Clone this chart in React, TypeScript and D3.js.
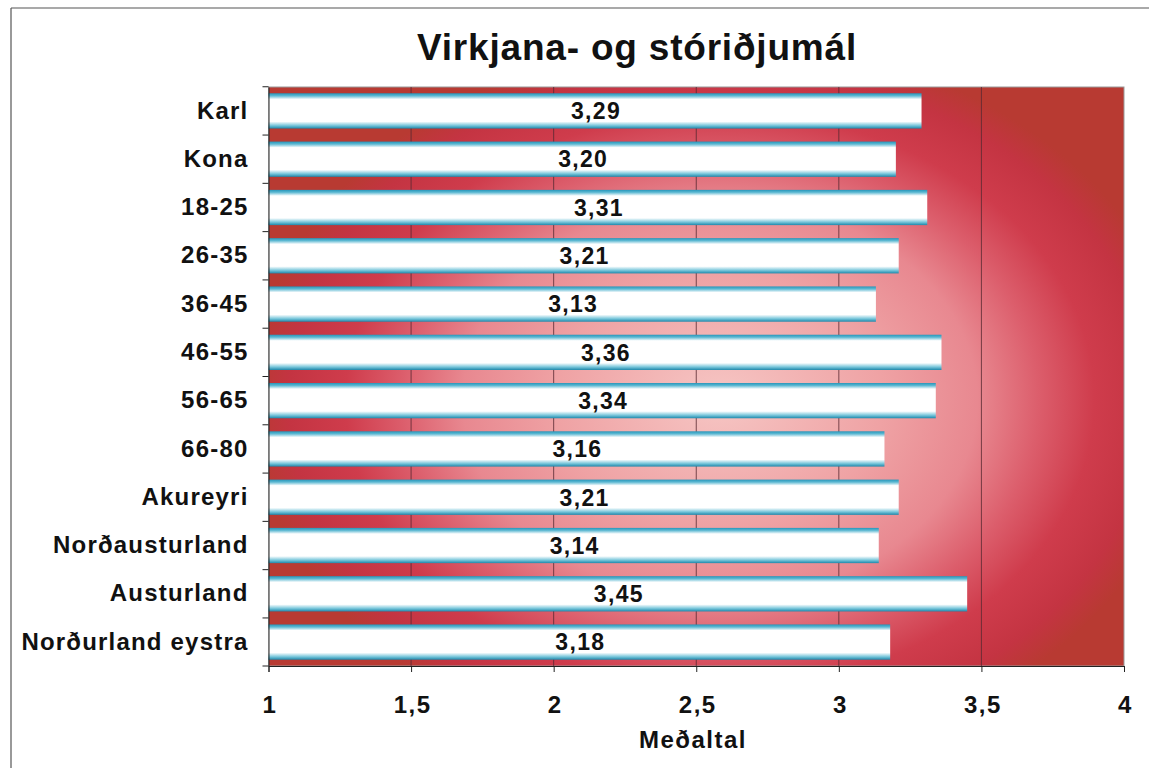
import React, { useEffect, useRef } from 'react';
import * as d3 from 'd3';

const categories = [
  'Karl', 'Kona', '18-25', '26-35', '36-45', '46-55', '56-65', '66-80',
  'Akureyri', 'Norðausturland', 'Austurland', 'Norðurland eystra',
];
const values = [3.29, 3.2, 3.31, 3.21, 3.13, 3.36, 3.34, 3.16, 3.21, 3.14, 3.45, 3.18];
const xTicks = [1, 1.5, 2, 2.5, 3, 3.5, 4];

const title = 'Virkjana- og stóriðjumál';
const xTitle = 'Meðaltal';

const fmt = (v: number) => d3.format('.2f')(v).replace('.', ',');
const fmtTick = (v: number) => String(v).replace('.', ',');

const App = () => {
  const svgRef = useRef<SVGSVGElement>(null);

  useEffect(() => {
    const svg = d3.select(svgRef.current);
    svg.selectAll('*').remove();

    const width = 1149;
    const height = 768;
    const margin = { top: 87, right: 25, bottom: 102, left: 268.5 };
    const font = '"Liberation Sans", Arial, sans-serif';

    const x = d3.scaleLinear()
      .domain([1, 4])
      .range([margin.left, width - margin.right]);

    const y = d3.scaleBand<string>()
      .domain(categories)
      .range([margin.top, height - margin.bottom])
      .paddingInner(0.27)
      .paddingOuter(0.13);

    // outer frame, only top and left edges show
    svg.append('line')
      .attr('x1', 11).attr('x2', width).attr('y1', 8).attr('y2', 8)
      .attr('stroke', '#555').attr('stroke-width', 1.2);
    svg.append('line')
      .attr('x1', 11).attr('x2', 11).attr('y1', 8).attr('y2', height)
      .attr('stroke', '#555').attr('stroke-width', 1.2);

    const defs = svg.append('defs');

    // plot background: crimson with a pale pink glow in the middle
    const cx = 720, cy = 400;
    const bg = defs.append('radialGradient')
      .attr('id', 'bg-grad')
      .attr('gradientUnits', 'userSpaceOnUse')
      .attr('cx', cx).attr('cy', cy).attr('fx', cx).attr('fy', cy)
      .attr('r', 360)
      .attr('gradientTransform', `translate(${cx},${cy}) scale(1.3,1) translate(${-cx},${-cy})`);
    bg.append('stop').attr('offset', '0%').attr('stop-color', '#f6c6c4');
    bg.append('stop').attr('offset', '35%').attr('stop-color', '#efa2a4');
    bg.append('stop').attr('offset', '55%').attr('stop-color', '#e88890');
    bg.append('stop').attr('offset', '68%').attr('stop-color', '#dc5e6c');
    bg.append('stop').attr('offset', '80%').attr('stop-color', '#cf3c4c');
    bg.append('stop').attr('offset', '92%').attr('stop-color', '#c43442');
    bg.append('stop').attr('offset', '100%').attr('stop-color', '#b83a32');

    // bar fill: white with teal top and bottom edges
    const bar = defs.append('linearGradient')
      .attr('id', 'bar-grad')
      .attr('x1', '0').attr('y1', '0').attr('x2', '0').attr('y2', '1');
    bar.append('stop').attr('offset', '0%').attr('stop-color', '#2796ba');
    bar.append('stop').attr('offset', '7%').attr('stop-color', '#5cb8d2');
    bar.append('stop').attr('offset', '17%').attr('stop-color', '#ffffff');
    bar.append('stop').attr('offset', '80%').attr('stop-color', '#ffffff');
    bar.append('stop').attr('offset', '91%').attr('stop-color', '#7cc8dc');
    bar.append('stop').attr('offset', '100%').attr('stop-color', '#1d88ab');

    svg.append('rect')
      .attr('x', margin.left)
      .attr('y', margin.top)
      .attr('width', width - margin.right - margin.left)
      .attr('height', height - margin.bottom - margin.top)
      .attr('fill', 'url(#bg-grad)')
      .attr('stroke', '#9a9a9a')
      .attr('stroke-width', 1);

    // gridlines
    svg.append('g')
      .selectAll('line')
      .data(xTicks.slice(1, -1))
      .join('line')
      .attr('x1', d => x(d)).attr('x2', d => x(d))
      .attr('y1', margin.top).attr('y2', height - margin.bottom)
      .attr('stroke', '#5a2a32')
      .attr('stroke-width', 1)
      .attr('opacity', 0.8);

    // bars
    svg.append('g')
      .selectAll('rect')
      .data(categories)
      .join('rect')
      .attr('x', x(1))
      .attr('y', d => y(d)!)
      .attr('width', (d, i) => x(values[i]) - x(1))
      .attr('height', y.bandwidth())
      .attr('fill', 'url(#bar-grad)');

    // value labels
    svg.append('g')
      .selectAll('text')
      .data(categories)
      .join('text')
      .attr('x', (d, i) => (x(1) + x(values[i])) / 2 + 1)
      .attr('y', d => y(d)! + y.bandwidth() / 2)
      .attr('dy', '0.36em')
      .attr('text-anchor', 'middle')
      .attr('font-family', font)
      .attr('font-weight', 'bold')
      .attr('font-size', 23)
      .attr('letter-spacing', 1.3)
      .attr('fill', '#111')
      .text((d, i) => fmt(values[i]));

    // y axis
    const yAxis = svg.append('g')
      .attr('transform', `translate(${margin.left},0)`)
      .call(d3.axisLeft(y).tickSize(0).tickPadding(20));
    yAxis.select('.domain').attr('stroke', '#222');
    yAxis.selectAll('.tick text')
      .attr('fill', '#111')
      .attr('font-family', font)
      .attr('font-weight', 'bold')
      .attr('font-size', 24)
      .attr('letter-spacing', 1.2);

    // y tick marks sit on the band boundaries
    const step = y.step();
    const bounds = categories.map(c => y(c)! - (step - y.bandwidth()) / 2);
    bounds.push(height - margin.bottom);
    svg.append('g')
      .selectAll('line')
      .data(bounds)
      .join('line')
      .attr('x1', margin.left - 6).attr('x2', margin.left)
      .attr('y1', d => d).attr('y2', d => d)
      .attr('stroke', '#222');

    // x axis
    const xAxis = svg.append('g')
      .attr('transform', `translate(0,${height - margin.bottom})`)
      .call(d3.axisBottom(x).tickValues(xTicks).tickSize(6).tickPadding(24).tickFormat(d => fmtTick(+d)));
    xAxis.select('.domain').attr('stroke', '#222');
    xAxis.selectAll('.tick line').attr('stroke', '#222');
    xAxis.selectAll('.tick text')
      .attr('fill', '#111')
      .attr('font-family', font)
      .attr('font-weight', 'bold')
      .attr('font-size', 24)
      .attr('letter-spacing', 1.5)
      .attr('dx', 1);

    svg.append('text')
      .attr('x', 693)
      .attr('y', 748)
      .attr('text-anchor', 'middle')
      .attr('font-family', font)
      .attr('font-weight', 'bold')
      .attr('font-size', 24)
      .attr('letter-spacing', 1.5)
      .attr('fill', '#111')
      .text(xTitle);

    svg.append('text')
      .attr('x', 637)
      .attr('y', 60)
      .attr('text-anchor', 'middle')
      .attr('font-family', font)
      .attr('font-weight', 'bold')
      .attr('font-size', 37)
      .attr('letter-spacing', 0.8)
      .attr('fill', '#111')
      .text(title);
  }, []);

  return (
    <svg
      ref={svgRef}
      width={1149}
      height={768}
      style={{ position: 'absolute', left: 0, top: 0, background: '#fff' }}
    />
  );
};

export default App;
